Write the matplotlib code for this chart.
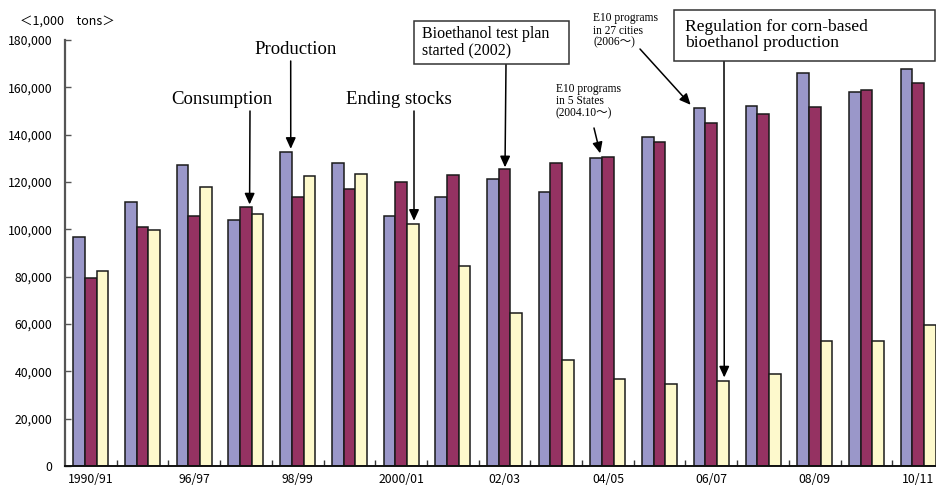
import numpy as np
import matplotlib.pyplot as plt
from matplotlib.patches import Rectangle
from matplotlib.ticker import FuncFormatter, FixedLocator

# -------------------------
# Data (1,000 tons)
# -------------------------
years = ["1990/91", "95/96", "96/97", "97/98", "98/99", "99/00", "2000/01", "01/02",
         "02/03", "03/04", "04/05", "05/06", "06/07", "07/08", "08/09", "09/10", "10/11"]
shown_labels = ["1990/91", "", "96/97", "", "98/99", "", "2000/01", "", "02/03", "",
                "04/05", "", "06/07", "", "08/09", "", "10/11"]

production = [96.6, 111.7, 127.2, 103.9, 132.8, 127.9, 105.6, 113.8, 121.1,
              115.6, 130.1, 139.1, 151.4, 152.1, 165.9, 157.9, 167.7]
consumption = [79.6, 100.8, 105.5, 109.3, 113.8, 117.0, 120.0, 122.8, 125.6,
               128.2, 130.7, 136.8, 144.8, 148.9, 151.8, 158.7, 162.0]
ending_stocks = [82.4, 99.7, 117.7, 106.6, 122.5, 123.5, 102.1, 84.5, 64.8,
                 44.8, 36.8, 34.6, 36.1, 38.9, 52.7, 52.9, 59.6]

production = np.array(production) * 1000
consumption = np.array(consumption) * 1000
ending_stocks = np.array(ending_stocks) * 1000

# -------------------------
# Figure
# -------------------------
W, H = 936, 487
fig = plt.figure(figsize=(W / 100, H / 100), dpi=100)


def fx(px):
    return px / W


def fy(py):
    return 1 - py / H


ax = fig.add_axes([fx(65), fy(466), fx(944) - fx(65), fy(40) - fy(466)])

x = np.arange(len(years))
bw = 0.226
edge = dict(edgecolor="#1a1a1a", linewidth=1.1)
ax.bar(x - bw, production, bw, color="#9a97c9", **edge)
ax.bar(x, consumption, bw, color="#953262", **edge)
ax.bar(x + bw, ending_stocks, bw, color="#fdf9cc", **edge)

ax.set_xlim(-0.5, len(years) - 0.5)
ax.set_ylim(0, 180000)

# axes styling
for s in ["top", "right"]:
    ax.spines[s].set_visible(False)
ax.spines["left"].set_color("#555555")
ax.spines["left"].set_linewidth(1.6)
ax.spines["bottom"].set_color("#111111")
ax.spines["bottom"].set_linewidth(1.4)

tick_font = ["Noto Sans CJK JP", "DejaVu Sans"]
ax.set_yticks(np.arange(0, 180001, 20000))
ax.yaxis.set_major_formatter(FuncFormatter(lambda v, p: f"{int(v):,}"))
ax.tick_params(axis="y", direction="in", length=4, width=1, color="#555555", pad=9)
for lab in ax.get_yticklabels():
    lab.set_family(tick_font)
    lab.set_fontsize(8.8)

ax.set_xticks(x)
ax.set_xticklabels(shown_labels, family=tick_font, fontsize=8.8)
ax.tick_params(axis="x", which="major", length=0, pad=5)
ax.xaxis.set_minor_locator(FixedLocator(np.arange(0.5, len(years) - 1, 1)))
ax.tick_params(axis="x", which="minor", direction="in", length=4, width=1, color="#333333")

# unit label
fig.text(fx(20), fy(21), "＜1,000　tons＞", family=tick_font, fontsize=9,
         ha="left", va="center")

# -------------------------
# Annotations
# -------------------------
serif = ["Liberation Serif", "Noto Sans CJK JP"]
arrow = dict(arrowstyle="-|>,head_length=0.55,head_width=0.25", color="black",
             lw=1.1, mutation_scale=12, shrinkA=0, shrinkB=0)

fig.text(fx(222), fy(100), "Consumption", family=serif, fontsize=13.5, ha="center", va="center")
ax.annotate("", xy=(3.07, consumption[3] + 1200), xycoords="data",
            xytext=(fx(250), fy(111)), textcoords="figure fraction", arrowprops=arrow)

fig.text(fx(295.5), fy(50), "Production", family=serif, fontsize=13.5, ha="center", va="center")
ax.annotate("", xy=(3.866, production[4] + 1200), xycoords="data",
            xytext=(fx(290.7), fy(61)), textcoords="figure fraction", arrowprops=arrow)

fig.text(fx(398.5), fy(100), "Ending stocks", family=serif, fontsize=13.5, ha="center", va="center")
ax.annotate("", xy=(6.25, ending_stocks[6] + 1500), xycoords="data",
            xytext=(fx(414), fy(111)), textcoords="figure fraction", arrowprops=arrow)

# boxed notes
box1 = Rectangle((fx(414), fy(64)), fx(569) - fx(414), fy(21) - fy(64),
                 transform=fig.transFigure, fill=True, fc="white", ec="#333333", lw=1.1)
fig.patches.append(box1)
fig.text(fx(422), fy(42.5), "Bioethanol test plan\nstarted (2002)", family=serif,
         fontsize=11.5, ha="left", va="center", linespacing=1.05)
ax.annotate("", xy=(8.01, consumption[8] + 600), xycoords="data",
            xytext=(fx(506), fy(64)), textcoords="figure fraction", arrowprops=arrow)

box2 = Rectangle((fx(674), fy(60.5)), fx(935) - fx(674), fy(10) - fy(60.5),
                 transform=fig.transFigure, fill=True, fc="white", ec="#333333", lw=1.1)
fig.patches.append(box2)
fig.text(fx(685), fy(35), "Regulation for corn-based\nbioethanol production", family=serif,
         fontsize=12.6, ha="left", va="center", linespacing=1.05)
ax.annotate("", xy=(12.25, ending_stocks[12] + 1300), xycoords="data",
            xytext=(fx(724), fy(60.5)), textcoords="figure fraction", arrowprops=arrow)

# E10 notes
fig.text(fx(556), fy(101), "E10 programs\nin 5 States\n(2004.10～)", family=serif,
         fontsize=8.3, ha="left", va="center", linespacing=1.0)
ax.annotate("", xy=(9.85, production[10] + 2000), xycoords="data",
            xytext=(fx(594), fy(128)), textcoords="figure fraction", arrowprops=arrow)

fig.text(fx(593), fy(30.5), "E10 programs\nin 27 cities\n(2006～)", family=serif,
         fontsize=8.3, ha="left", va="center", linespacing=1.0)
ax.annotate("", xy=(11.6, production[12] + 1200), xycoords="data",
            xytext=(fx(640), fy(49)), textcoords="figure fraction", arrowprops=arrow)

fig.savefig("out.png", dpi=100)
